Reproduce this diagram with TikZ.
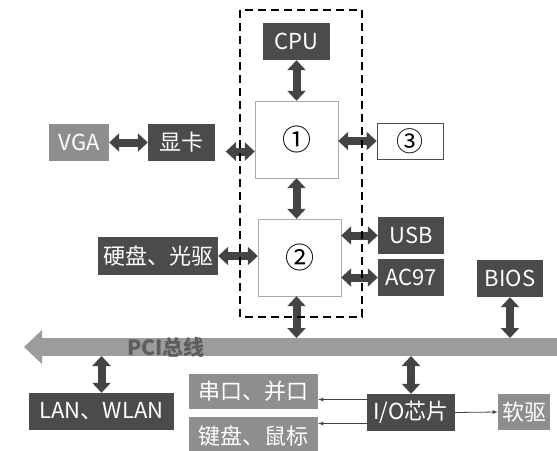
\documentclass[tikz,border=0pt]{standalone}
\usepackage{fontspec}
\setmainfont{Noto Sans CJK SC}
\usepackage{tikz}
\usetikzlibrary{arrows,arrows.meta,calc,positioning}

\definecolor{darkbox}{HTML}{4B4B4B}
\definecolor{lightbox}{HTML}{8E8E8E}
\definecolor{arrowgray}{HTML}{444444}
\definecolor{busgray}{HTML}{9C9C9C}
\definecolor{frame}{HTML}{AAAAAA}

\begin{document}
\begin{tikzpicture}[>=latex, x=1pt, y=-1pt]
			\tikzstyle{blk}=[inner sep=0pt, font=\fontsize{22}{24}\selectfont, text=white]
			\tikzstyle{dark}=[blk, fill=darkbox, minimum height=37pt]
			\tikzstyle{light}=[blk, fill=lightbox, minimum height=37pt]
			\tikzstyle{chip}=[draw=frame, fill=white, inner sep=0pt, minimum width=83pt, minimum height=77pt, font=\fontsize{29}{31}\selectfont]
			\tikzstyle{link}=[draw=arrowgray, line width=8pt, {Triangle[width=18pt,length=10pt]}-{Triangle[width=18pt,length=10pt]}]
			\tikzstyle{thinlink}=[draw=arrowgray, line width=0.8pt, ->]

			\useasboundingbox (0,0) rectangle (557,450);

			\node (cpu) [dark, minimum width=67pt] at (296.5,41.5) {CPU};
			\node (nb) [chip] at (296.5,139.5) {①};
			\node (sb) [chip] at (299.5,257.5) {②};
			\node (mem) [draw=darkbox, line width=0.8pt, fill=white, inner sep=0pt, minimum width=66pt, minimum height=36pt, font=\fontsize{27}{29}\selectfont] at (410,141) {③};

			\node (vga) [light, minimum width=60pt] at (79,142.5) {VGA};
			\node (gpu) [dark, minimum width=67pt] at (181.5,142.5) {显卡};
			\node (hdd) [dark, minimum width=120pt, minimum height=38pt] at (158,256) {硬盘、光驱};
			\node (usb) [dark, minimum width=66pt] at (411,235.5) {USB};
			\node (ac97) [dark, minimum width=66pt] at (411,277.5) {AC97};
			\node (bios) [dark, minimum width=66pt] at (510,278.5) {BIOS};

			\coordinate (pciL) at (24,347);
			\coordinate (pciR) at (577,347);
			\draw [draw=busgray, line width=18pt, {Triangle[width=33pt,length=18pt]}-{Triangle[width=33pt,length=18pt]}] (pciL) -- (pciR);
			\node (pcitext) [font=\fontsize{21}{23}\selectfont\bfseries, text=darkbox!90] at (166,347) {PCI总线};

			\node (lan) [dark, minimum width=145pt] at (101.5,411.5) {LAN、WLAN};
			\node (io) [dark, minimum width=88pt] at (411,412.5) {I/O芯片};
			\node (ser) [light, minimum width=129pt, minimum height=35pt] at (253.5,391.5) {串口、并口};
			\node (kbd) [light, minimum width=129pt, minimum height=38pt] at (253.5,436) {键盘、鼠标};
			\node (fdd) [light, minimum width=52pt, minimum height=36pt] at (524,412) {软驱};

			\draw [link] (cpu.south) -- (nb.north);
			\draw [link] (nb.south) -- (nb.south |- sb.north);
			\draw [link] (vga.east) -- (gpu.west);
			\draw [link] ($(nb.west)+(-29,12)$) -- ($(nb.west)+(0,12)$);
			\draw [link] (nb.east |- mem.west) -- (mem.west);
			\draw [link] (hdd.east) -- (hdd.east -| sb.west);
			\draw [link] (sb.east |- usb.west) -- (usb.west);
			\draw [link] (sb.east |- ac97.west) -- (ac97.west);

			\draw [link] (nb.south |- sb.south) -- ($(nb.south |- pciL)+(0,-9)$);
			\draw [link] (bios.south) -- ($(bios.south |- pciL)+(0,-9)$);
			\draw [link] ($(lan.north |- pciL)+(0,9)$) -- (lan.north);
			\draw [link] ($(io.north |- pciL)+(0,9)$) -- (io.north);

			\coordinate (io1) at ($(io.west)+(0,-13)$);
			\coordinate (io2) at ($(io.west)+(0,11)$);
			\draw [thinlink] (io1) -- (io1 -| ser.east);
			\draw [thinlink] (io2) -- (io2 -| kbd.east);
			\draw [thinlink] (io.east) -- (fdd.west);

			\draw [line width=2pt, dash pattern=on 8pt off 5pt] (240,10) rectangle (362,317);
		\end{tikzpicture}
\end{document}
